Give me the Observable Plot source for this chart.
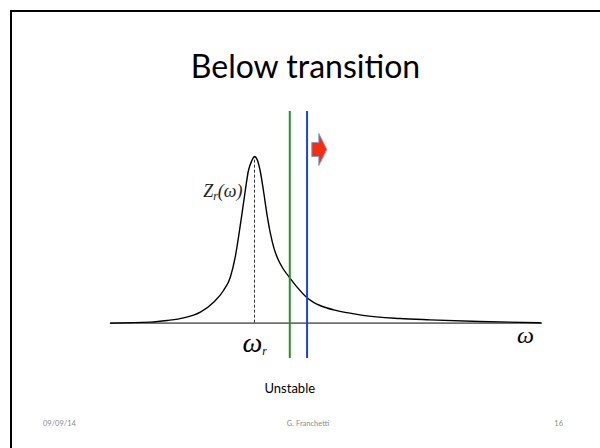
<!DOCTYPE html>
<html>
<head>
<meta charset="utf-8">
<script src="https://cdn.jsdelivr.net/npm/d3@7"></script>
<script src="https://cdn.jsdelivr.net/npm/@observablehq/plot@0.6"></script>
<style>
  html, body { margin: 0; padding: 0; background: #fff; }
  #slide { position: relative; width: 600px; height: 448px; overflow: hidden; font-family: Lato, "Open Sans", sans-serif; }
  #frame { position: absolute; left: 10px; top: 10px; width: 620px; height: 460px; border-top: 2px solid #000; border-left: 2px solid #000; box-sizing: border-box; }
  #chart { position: absolute; left: 0; top: 0; }
  #title { position: absolute; left: 0; width: 611px; top: 50px; text-align: center; font-size: 32px; line-height: 1; color: #000; white-space: nowrap; }
  .foot { position: absolute; top: 420px; font-size: 7.5px; line-height: 1; color: #8a8a8a; white-space: nowrap; }
</style>
</head>
<body>
<div id="slide">
  <div id="frame"></div>
  <div id="chart"></div>
  <div id="title">Below transition</div>
  <div class="foot" style="left:43px">09/09/14</div>
  <div class="foot" style="left:208px;width:200px;text-align:center">G. Franchetti</div>
  <div class="foot" style="left:463px;width:100px;text-align:right">16</div>
</div>
<script>
// Resonance impedance |Z_r| versus frequency, normalised to the resonance (ω/ω_r, Z/Z_peak)
const omega = [0, 0.277, 0.393, 0.508, 0.624, 0.716, 0.785, 0.832, 0.866, 0.889, 0.913, 0.936, 0.958, 0.982,
               1.0, 1.021, 1.039, 1.062, 1.086, 1.11, 1.135, 1.165, 1.2, 1.245, 1.3, 1.365, 1.41, 1.455,
               1.548, 1.663, 1.753, 2.01, 2.218, 2.564, 2.987];
const zr = [0, 0.006, 0.016, 0.032, 0.066, 0.126, 0.196, 0.276, 0.396, 0.516, 0.656, 0.796, 0.916, 0.976,
            1.0, 0.976, 0.916, 0.796, 0.656, 0.54, 0.45, 0.38, 0.325, 0.272, 0.212, 0.152, 0.125, 0.106,
            0.08, 0.06, 0.047, 0.028, 0.02, 0.01, 0.002];

const omegaR = 1.0;          // resonance frequency
const omegaMax = 3.0;        // end of the frequency axis
const coherentLines = [1.245, 1.365];           // green and blue beam lines
const lineColors = ["#2a8f2a", "#1d3fe6"];
const shift = [{omega: 1.45, z: 1.042}];        // direction of the shift

const curve = omega.map((w, i) => ({omega: w, z: zr[i]}));

// right-pointing block arrow used as a dot symbol
const blockArrow = {
  draw(ctx, size) {
    const r = Math.sqrt(size / Math.PI);
    ctx.moveTo(-0.47 * r, -0.44 * r);
    ctx.lineTo(-0.03 * r, -0.44 * r);
    ctx.lineTo(-0.03 * r, -r);
    ctx.lineTo(0.47 * r, 0);
    ctx.lineTo(-0.03 * r, r);
    ctx.lineTo(-0.03 * r, 0.44 * r);
    ctx.lineTo(-0.47 * r, 0.44 * r);
    ctx.closePath();
  }
};

const serif = "'Liberation Serif', 'DejaVu Serif', serif";

const chart = Plot.plot({
  width: 600,
  height: 448,
  marginLeft: 110,
  marginRight: 58,
  marginTop: 111,
  marginBottom: 90,
  x: {domain: [0, omegaMax], axis: null},
  y: {domain: [-0.212, 1.27], axis: null},
  marks: [
    Plot.ruleY([0], {stroke: "#707070", strokeWidth: 1.6}),
    Plot.ruleX([omegaR], {y1: 0, y2: 1, stroke: "#333", strokeWidth: 1, strokeDasharray: "3,2"}),
    Plot.line(curve, {x: "omega", y: "z", curve: "monotone-x", stroke: "#000", strokeWidth: 1.4}),
    Plot.ruleX(coherentLines, {x: d => d, stroke: (d, i) => lineColors[i], strokeWidth: 2}),
    Plot.dot(shift, {x: "omega", y: "z", symbol: blockArrow, r: 16, fill: "#f82d10", stroke: "#7d9fd3", strokeWidth: 1}),
    Plot.text(["Z_r(ω)"], {x: omegaR, y: 0.793, dx: -12, textAnchor: "end", fontFamily: serif, fontStyle: "italic", fontSize: 18, fill: "#222"}),
    Plot.text(["ω_r"], {x: omegaR, y: 0, dy: 20, fontFamily: serif, fontStyle: "italic", fontSize: 28, fill: "#000"}),
    Plot.text(["ω"], {x: omegaMax, y: 0, dx: -17, dy: 12, fontFamily: serif, fontStyle: "italic", fontSize: 24, fill: "#000"}),
    Plot.text(["Unstable"], {x: coherentLines[0], frameAnchor: "bottom", dy: 34, fontFamily: "Lato, 'Open Sans', sans-serif", fontSize: 13, fill: "#000"})
  ]
});

// turn "a_b" labels into a base with a subscript
d3.select(chart).selectAll("text").each(function () {
  const m = this.textContent.match(/^(.*?)_(\w)(.*)$/);
  if (!m) return;
  const fs = parseFloat(getComputedStyle(this).fontSize) || 16;
  const shiftPx = fs * 0.2;
  const t = d3.select(this);
  this.textContent = "";
  t.append("tspan").text(m[1]);
  t.append("tspan").attr("dy", shiftPx).attr("font-size", fs * 0.72).text(m[2]);
  if (m[3]) t.append("tspan").attr("dy", -shiftPx).text(m[3]);
});

document.getElementById("chart").appendChild(chart);
</script>
</body>
</html>
